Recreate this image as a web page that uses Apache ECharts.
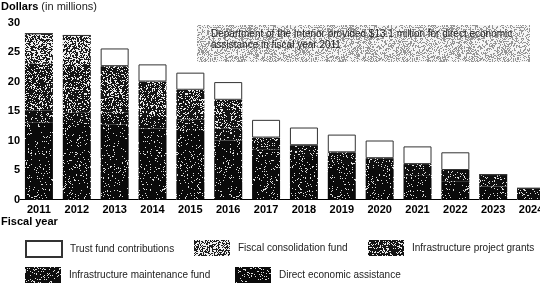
<!DOCTYPE html>
<html><head><meta charset="utf-8">
<script src="https://cdn.jsdelivr.net/npm/echarts@6/dist/echarts.min.js"></script>
<style>html,body{margin:0;padding:0;background:#fff;overflow:hidden}#c{width:560px;height:284px}</style>
</head><body><div id="c"></div>
<script>
const years = ['2011','2012','2013','2014','2015','2016','2017','2018','2019','2020','2021','2022','2023','2024'];
const directEconomic = [13.1,12.8,12.7,12.0,11.6,10.0,8.5,7.2,6.0,5.0,4.0,3.0,2.2,0];
const maintenanceFund = [2,2,2,2,2,2,2,2,2,2,2,2,2,1.9];
const projectGrants = [8,8,7.9,6,5,4.9,0,0,0,0,0,0,0,0];
const fiscalFund = [5,5,0,0,0,0,0,0,0,0,0,0,0,0];
const trustFund = [0,0,3,2.9,2.9,3,3,3,3,3,3,3,0,0];
const yTicks = [0,5,10,15,20,25,30];

// speckle textures (styling only, deterministic)
function noise(density, dark, light, seed){
  const N = 101;
  const c = document.createElement('canvas'); c.width = N; c.height = N;
  const ctx = c.getContext('2d'); const img = ctx.createImageData(N,N);
  let s = seed;
  for(let i=0;i<N*N;i++){
    s = (Math.imul(s, 1664525) + 1013904223) >>> 0;
    const r = ((s >>> 8) & 0xffff) / 65536;
    const v = r < density ? dark : light;
    img.data[i*4]=v; img.data[i*4+1]=v; img.data[i*4+2]=v; img.data[i*4+3]=255;
  }
  ctx.putImageData(img,0,0); return c;
}
const pat = (d, dk, lt, sd) => ({image: noise(d, dk, lt, sd), repeat:'repeat'});
const cDEA = pat(0.92, 10, 220, 12345), cMaint = pat(0.87, 15, 225, 23456),
      cProj = pat(0.74, 20, 235, 34567), cFisc = pat(0.52, 30, 240, 45678),
      cNote = pat(0.40, 150, 245, 56789);

const chart = echarts.init(document.getElementById('c'), null, {renderer:'canvas'});
const FONT = 'Liberation Sans, Arial, sans-serif';
function ser(name, data, color, extra){
  return Object.assign({name, type:'bar', stack:'t', data, barWidth:28,
    itemStyle:{color}, emphasis:{disabled:true}}, extra||{});
}
function leg(name, left, top){
  return {data:[name], left, top, itemWidth:36, itemHeight:16, itemGap:0,
    icon:'rect', textStyle:{fontFamily:FONT, fontSize:10, color:'#222', padding:[0,0,0,3]}, selectedMode:false, padding:0};
}
chart.setOption({
  animation:false,
  textStyle:{fontFamily:FONT},
  grid:{left:20, top:22.5, width:530, bottom:84.5, containLabel:false},
  xAxis:{type:'category', data:years, axisTick:{show:false},
    axisLine:{lineStyle:{color:'#000', width:1}},
    axisLabel:{fontFamily:FONT, fontWeight:'bold', fontSize:11, color:'#000', margin:5}},
  yAxis:{type:'value', min:0, max:30, interval:5, splitLine:{show:false}, axisLine:{show:false}, axisTick:{show:false},
    axisLabel:{fontFamily:FONT, fontWeight:'bold', fontSize:11, color:'#000', margin:0,
      formatter: v => yTicks.includes(v) ? String(v) : ''}},
  legend:[
    leg('Trust fund contributions', 25, 240),
    leg('Fiscal consolidation fund', 194, 240),
    leg('Infrastructure project grants', 368, 240),
    leg('Infrastructure maintenance fund', 25, 267),
    leg('Direct economic assistance', 235, 267)
  ],
  series:[
    ser('Direct economic assistance', directEconomic, cDEA),
    ser('Infrastructure maintenance fund', maintenanceFund, cMaint),
    ser('Infrastructure project grants', projectGrants, cProj),
    ser('Fiscal consolidation fund', fiscalFund, cFisc),
    ser('Trust fund contributions', trustFund, '#fff', {itemStyle:{color:'#fff', borderColor:'#333', borderWidth:1}})
  ],
  graphic:[
    {type:'text', left:1, top:1, style:{text:'{b|Dollars} (in millions)', fontFamily:FONT, fontSize:11, fill:'#222',
      rich:{b:{fontWeight:'bold', fontSize:11, fill:'#000', fontFamily:FONT}}}},
    {type:'text', left:1, top:216, style:{text:'Fiscal year', fontFamily:FONT, fontWeight:'bold', fontSize:11, fill:'#000'}},
    {type:'rect', shape:{x:197, y:25, width:333, height:37}, style:{fill:cNote}, z:10},
    {type:'text', x:211, y:29, z:11, style:{text:'Department of the Interior provided $13.1 million for direct economic\nassistance in fiscal year 2011',
      fontFamily:FONT, fontSize:10, lineHeight:11, fill:'#222'}}
  ]
});
</script></body></html>
